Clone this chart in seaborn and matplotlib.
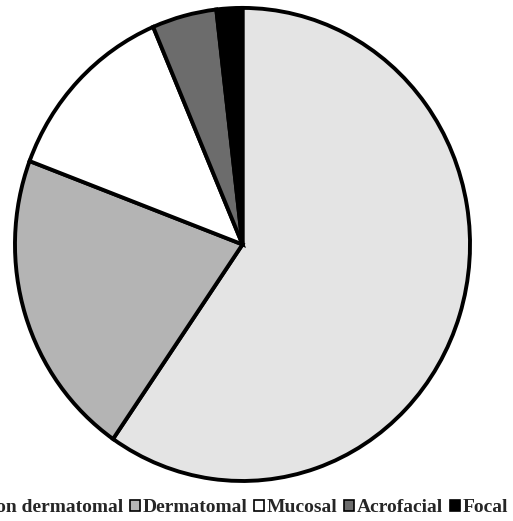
import matplotlib
matplotlib.use('Agg')
import matplotlib.pyplot as plt
import seaborn as sns

categories = ['Non dermatomal', 'Dermatomal', 'Mucosal', 'Acrofacial', 'Focal']
counts = [65, 23, 14, 5, 2]
colors = ['#e4e4e4', '#b4b4b4', '#ffffff', '#6c6c6c', '#000000']

sns.set_theme(style='white')
plt.rcParams['font.family'] = ['Liberation Serif', 'DejaVu Serif']

fig = plt.figure(figsize=(5.13, 5.21), dpi=100)
ax = fig.add_axes([0.0292, 0.0768, 0.887, 0.908])
wedges, _ = ax.pie(counts, colors=colors, startangle=90, counterclock=False,
                   wedgeprops=dict(edgecolor='black', linewidth=2.8))
ax.set_xlim(-1.0, 1.0)
ax.set_ylim(-1.0, 1.0)
ax.set_aspect('auto')

handles = [plt.Rectangle((0, 0), 1, 1, facecolor=c, edgecolor='black', linewidth=1.2)
           for c in colors]
fig.legend(handles, categories, loc='center right', bbox_to_anchor=(1.006, 0.026),
           ncol=5, frameon=False, handlelength=0.5, handleheight=0.5,
           handletextpad=0.15, columnspacing=0.35, borderaxespad=0,
           prop=dict(family='Liberation Serif', weight='bold', size=14))

fig.savefig('out.png', dpi=100)
